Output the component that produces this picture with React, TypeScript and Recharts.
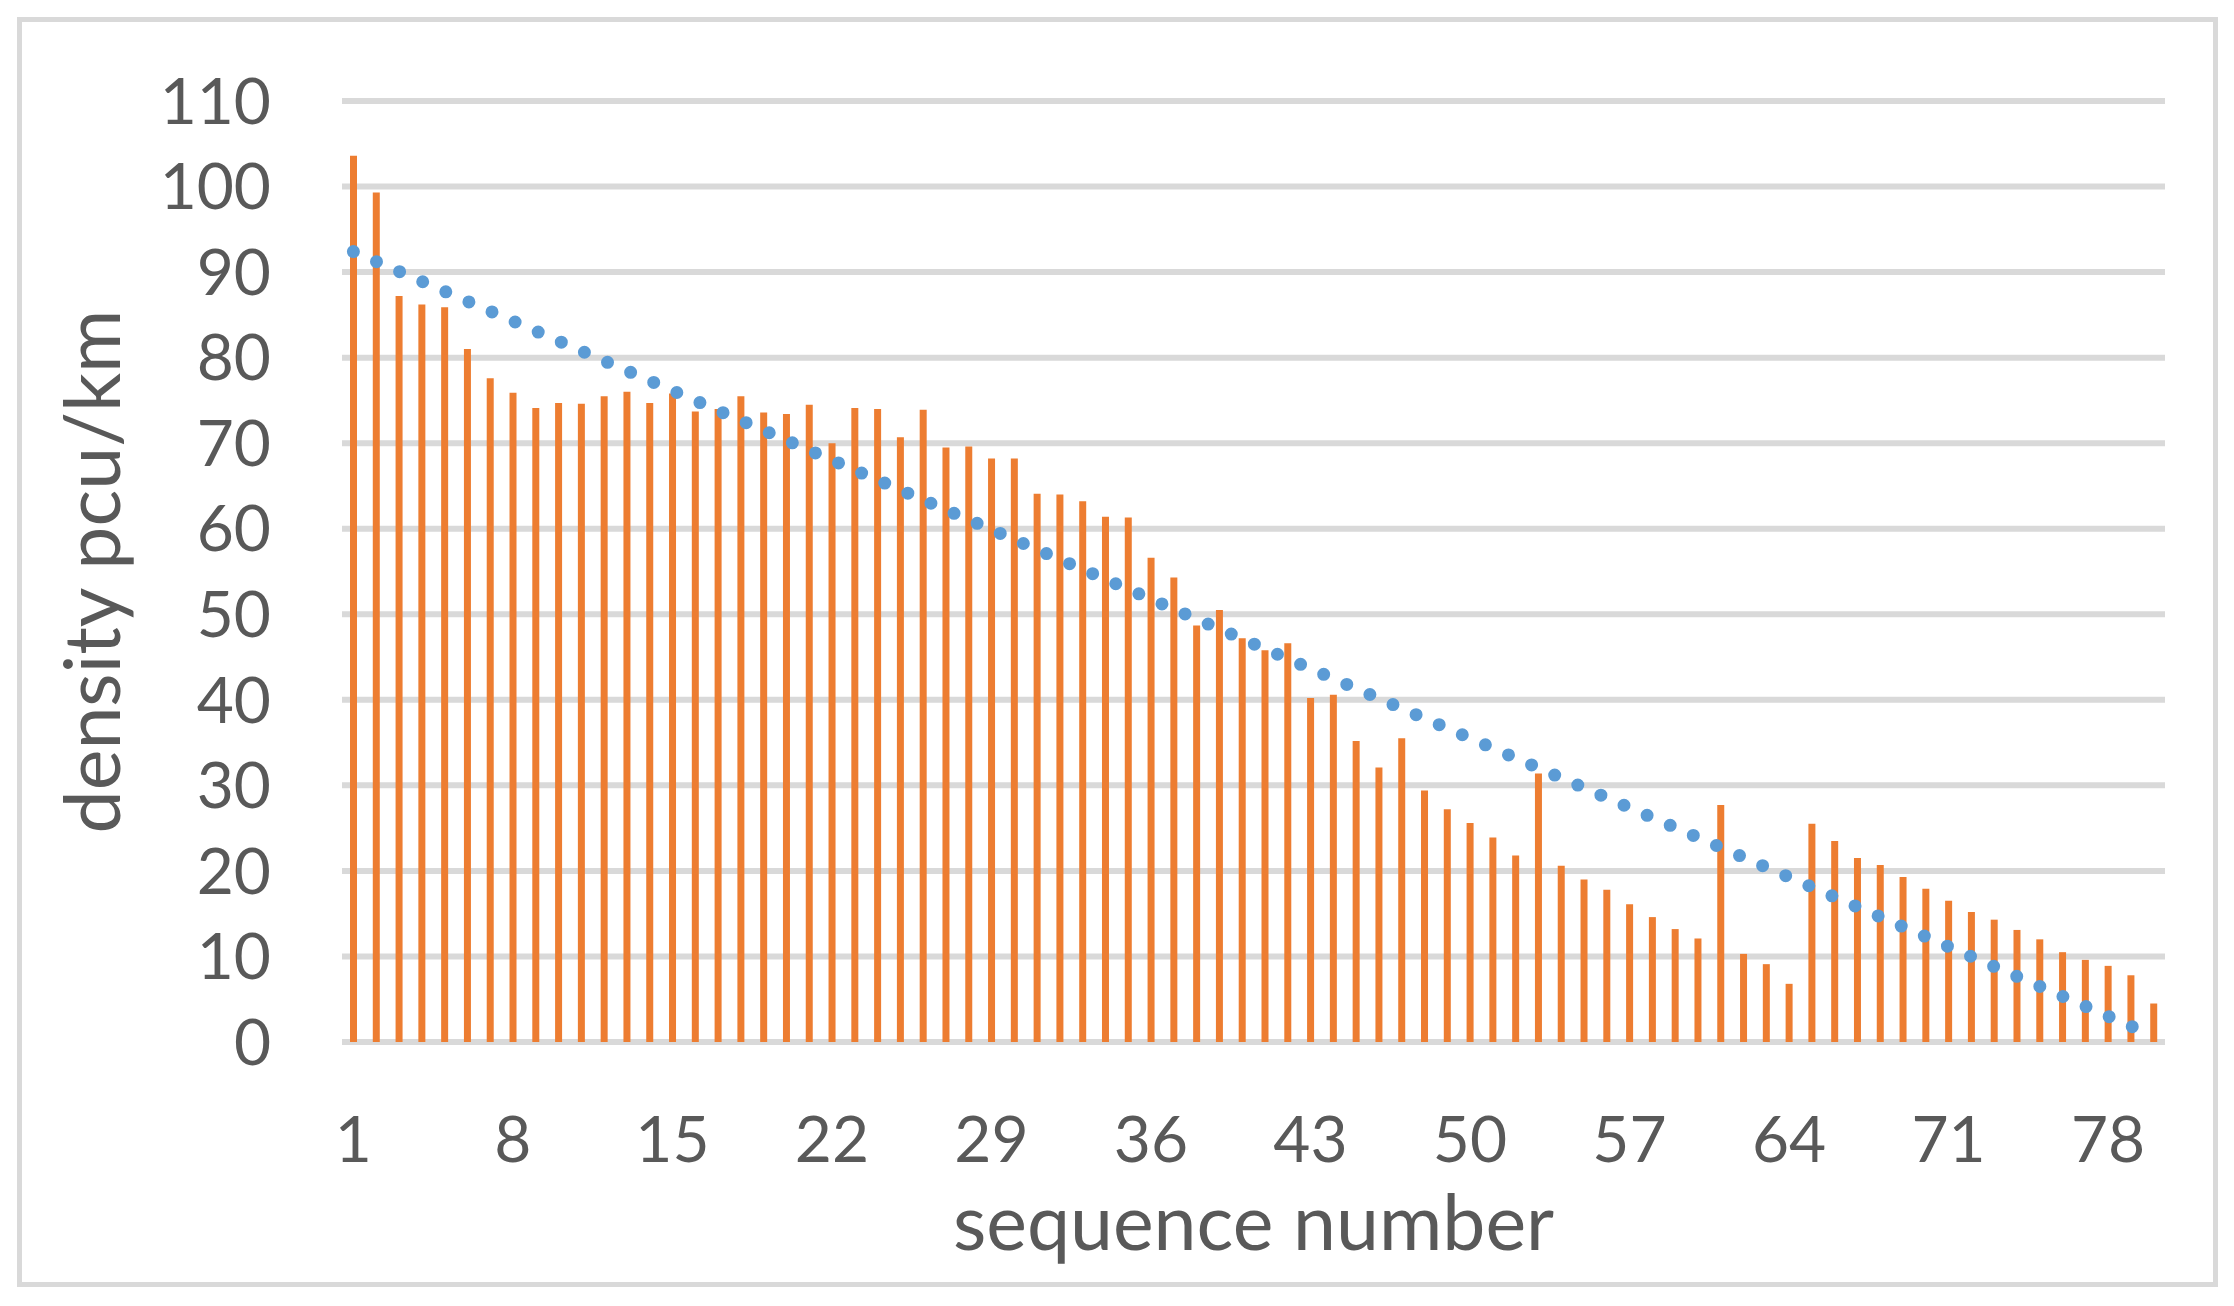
import React from 'react'
import { Bar, CartesianGrid, ComposedChart, Line, XAxis, YAxis } from 'recharts'

// density per sequence number (pcu/km)
const density = [
  103.6, 99.3, 87.2, 86.2, 85.9, 81.0, 77.6, 75.9, 74.1, 74.7,
  74.6, 75.5, 76.0, 74.7, 75.8, 73.7, 74.0, 75.5, 73.6, 73.4,
  74.5, 70.0, 74.1, 74.0, 70.7, 73.9, 69.5, 69.6, 68.2, 68.2,
  64.1, 64.0, 63.2, 61.4, 61.3, 56.6, 54.3, 48.7, 50.5, 47.2,
  45.8, 46.6, 40.2, 40.6, 35.2, 32.1, 35.5, 29.4, 27.2, 25.6,
  23.9, 21.8, 31.4, 20.6, 19.0, 17.8, 16.1, 14.6, 13.2, 12.1,
  27.7, 10.3, 9.1, 6.8, 25.5, 23.5, 21.5, 20.7, 19.3, 17.9,
  16.5, 15.2, 14.3, 13.1, 12.0, 10.5, 9.6, 8.9, 7.8, 4.5,
]

// linear trendline end points (first and last sequence number)
const trendStart = 92.4
const trendEnd = 0.7

const yTicks = [0, 10, 20, 30, 40, 50, 60, 70, 80, 90, 100, 110]
const xTitle = 'sequence number'
const yTitle = 'density pcu/km'

const data = density.map((d, i) => ({
  seq: i + 1,
  density: d,
  trend: i === 0 ? trendStart : i === density.length - 1 ? trendEnd : null,
}))

const textColor = '#595959'
const font = 'Lato, "Open Sans", sans-serif'

const XTitle = (props: any) => {
  const vb = props.viewBox
  return (
    <text
      x={vb.x + vb.width / 2}
      y={1250}
      textAnchor="middle"
      fill={textColor}
      fontSize={77}
      fontFamily={font}
    >
      {xTitle}
    </text>
  )
}

const YTitle = (props: any) => {
  const vb = props.viewBox
  const cy = vb.y + vb.height / 2
  return (
    <text
      x={93}
      y={cy}
      dy="0.355em"
      transform={`rotate(-90, 93, ${cy})`}
      textAnchor="middle"
      fill={textColor}
      fontSize={77}
      fontFamily={font}
    >
      {yTitle}
    </text>
  )
}

const App = () => (
  <div
    style={{
      position: 'absolute',
      left: 0,
      top: 0,
      width: 2234,
      height: 1306,
      background: '#fff',
      fontFamily: font,
    }}
  >
    <div
      style={{
        position: 'absolute',
        left: 17,
        top: 17,
        width: 2201,
        height: 1270,
        border: '5px solid #D9D9D9',
        boxSizing: 'border-box',
      }}
    />
    <div style={{ position: 'absolute', left: 0, top: 0 }}>
      <ComposedChart
        width={2234}
        height={1306}
        data={data}
        margin={{ top: 101, right: 69, left: 242, bottom: 204 }}
      >
        <CartesianGrid vertical={false} stroke="#D9D9D9" strokeWidth={6} />
        <XAxis
          dataKey="seq"
          interval={6}
          height={60}
          axisLine={false}
          tickLine={false}
          tickSize={0}
          tickMargin={75}
          tick={{ fill: textColor, fontSize: 64, fontFamily: font }}
          label={{ content: XTitle }}
        />
        <YAxis
          width={100}
          domain={[0, 110]}
          ticks={yTicks}
          interval={0}
          axisLine={false}
          tickLine={false}
          tickSize={0}
          tickMargin={71}
          tick={{ fill: textColor, fontSize: 64, fontFamily: font }}
          label={{ content: YTitle }}
        />
        <Bar dataKey="density" fill="#ED7D31" barSize={7} isAnimationActive={false} />
        <Line
          type="linear"
          dataKey="trend"
          connectNulls
          stroke="#5B9BD5"
          strokeWidth={13}
          strokeDasharray="0 25.2"
          strokeLinecap="round"
          dot={false}
          activeDot={false}
          isAnimationActive={false}
        />
      </ComposedChart>
    </div>
  </div>
)

export default App
